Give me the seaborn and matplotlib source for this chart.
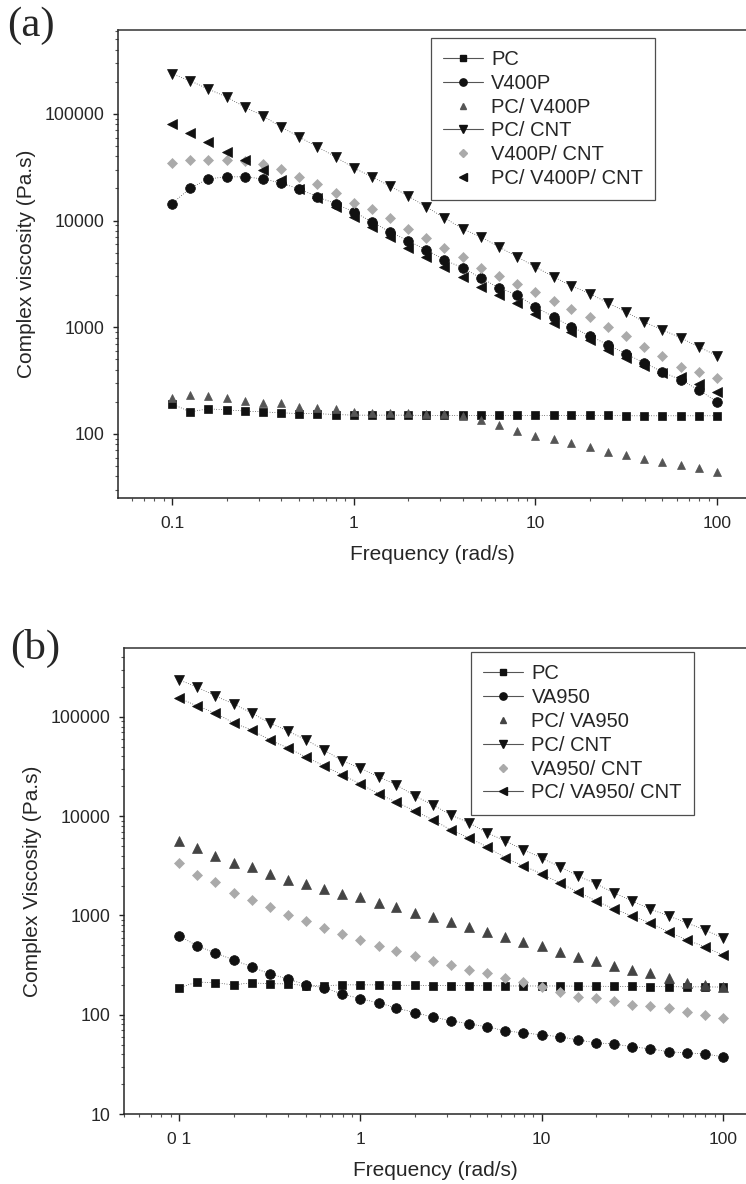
import numpy as np
import pandas as pd
import seaborn as sns
import matplotlib.pyplot as plt
from matplotlib.lines import Line2D
from matplotlib.ticker import LogLocator, NullFormatter

# frequency sweep, 10 points per decade, 0.1 - 100 rad/s
freq = [0.1, 0.126, 0.158, 0.2, 0.251, 0.316, 0.398, 0.501, 0.631, 0.794,
        1.0, 1.26, 1.58, 2.0, 2.51, 3.16, 3.98, 5.01, 6.31, 7.94,
        10.0, 12.6, 15.8, 20.0, 25.1, 31.6, 39.8, 50.1, 63.1, 79.4, 100.0]

# ---- panel (a) ----
pc_a = [191, 161, 172, 168, 164, 161, 158, 155, 155, 152, 150, 150, 150, 150, 149, 149,
        149, 149, 149, 149, 149, 149, 149, 149, 149, 148, 148, 148, 148, 148, 148]
v400p = [14400, 20200, 24600, 25700, 25700, 24600, 22500, 19800, 16700, 14400, 12100,
         9730, 7830, 6450, 5310, 4280, 3600, 2900, 2340, 2010, 1550, 1250, 1010, 830,
         684, 563, 464, 382, 321, 259, 200]
pc_v400p = [218, 232, 228, 218, 204, 196, 196, 179, 176, 172, 161, 158, 158, 158, 154, 154,
            148, 136, 122, 107, 96, 90, 83, 76, 68, 64, 58, 54, 51, 48, 44]
pc_cnt_a = [237000, 204000, 171000, 144000, 116000, 95800, 75500, 60800, 49100, 39500,
            31200, 25700, 21100, 17000, 13400, 10600, 8360, 7030, 5670, 4570, 3680, 2970,
            2440, 2060, 1690, 1390, 1120, 946, 796, 655, 540]
v400p_cnt = [34700, 37100, 37100, 37100, 36300, 34000, 30500, 25700, 22100, 18200, 14700,
             12900, 10600, 8360, 6880, 5540, 4570, 3600, 3030, 2550, 2150, 1770, 1490, 1250,
             1010, 830, 655, 540, 425, 382, 336]
pc_v400p_cnt = [80600, 66400, 54700, 44000, 37100, 29800, 24000, 19800, 16300, 13400, 10800,
                8730, 7030, 5540, 4570, 3680, 2970, 2390, 2010, 1690, 1340, 1100, 906, 762,
                614, 516, 435, 374, 343, 295, 248]

# ---- panel (b) ----
pc_b = [187, 214, 210, 200, 210, 205, 205, 196, 196, 200, 200, 200, 198, 198, 197, 197,
        196, 196, 195, 195, 195, 195, 194, 194, 193, 193, 192, 192, 191, 191, 190]
va950 = [624, 494, 420, 357, 304, 258, 230, 200, 187, 162, 145, 132, 117, 105, 95, 87,
         81, 75.5, 68.8, 65.7, 62.8, 60.0, 55.9, 52.1, 50.9, 47.5, 45.4, 42.4, 41.3, 40.4, 37.7]
pc_va950 = [5640, 4800, 3980, 3390, 3090, 2620, 2280, 2080, 1850, 1650, 1540, 1340, 1220,
            1060, 968, 862, 768, 684, 610, 542, 494, 430, 383, 349, 311, 283, 264, 235,
            210, 200, 191]
pc_cnt_b = [236000, 200000, 163000, 135000, 110000, 87000, 72300, 58700, 46500, 36100,
            30600, 24900, 20700, 16000, 13000, 10300, 8570, 6800, 5640, 4580, 3800, 3090,
            2510, 2080, 1690, 1400, 1160, 990, 842, 716, 594]
va950_cnt = [3390, 2570, 2180, 1690, 1440, 1220, 1010, 883, 750, 653, 568, 494, 440, 392,
             349, 318, 283, 264, 235, 214, 191, 170, 151, 148, 138, 126, 123, 117, 107, 99.8, 93]
pc_va950_cnt = [155000, 129000, 110000, 87000, 74000, 58700, 48700, 39600, 32100, 26100,
                21200, 16800, 13900, 11300, 9190, 7280, 6040, 4910, 3800, 3160, 2630, 2130,
                1730, 1400, 1160, 990, 842, 684, 568, 483, 401]

sns.set_theme(style="ticks")
plt.rcParams['font.family'] = ['Liberation Sans', 'DejaVu Sans']
plt.rcParams['axes.linewidth'] = 1.1

fig = plt.figure(figsize=(7.46, 11.84), dpi=100)
ax_a = fig.add_axes([0.1582, 0.5794, 0.8418, 0.3953])
ax_b = fig.add_axes([0.1662, 0.0591, 0.8338, 0.3936])

# (label, values, marker, color, size, has_line)
series_a = [("PC", pc_a, "s", "#111111", 6, True),
            ("V400P", v400p, "o", "#111111", 7, True),
            ("PC/ V400P", pc_v400p, "^", "#555555", 6, False),
            ("PC/ CNT", pc_cnt_a, "v", "#111111", 7.5, True),
            ("V400P/ CNT", v400p_cnt, "D", "#aaaaaa", 5, False),
            ("PC/ V400P/ CNT", pc_v400p_cnt, "<", "#111111", 7, False)]
series_b = [("PC", pc_b, "s", "#111111", 6, True),
            ("VA950", va950, "o", "#111111", 7, True),
            ("PC/ VA950", pc_va950, "^", "#444444", 6.5, False),
            ("PC/ CNT", pc_cnt_b, "v", "#111111", 7.5, True),
            ("VA950/ CNT", va950_cnt, "D", "#aaaaaa", 5, False),
            ("PC/ VA950/ CNT", pc_va950_cnt, "<", "#111111", 7, True)]


def draw_panel(ax, series, xlim, ylim, yticks, xticklabels, ylabel, tag, tag_xy, leg_anchor):
    handles = []
    for name, vals, mk, col, ms, has_line in series:
        df = pd.DataFrame({"freq": freq, "eta": vals})
        sns.lineplot(data=df, x="freq", y="eta", ax=ax, marker=mk, color=col,
                     markersize=ms, markeredgecolor=col, markeredgewidth=0.5,
                     linestyle=(0, (1, 2.5)) if has_line else "none",
                     linewidth=0.5, alpha=1.0)
        handles.append(Line2D([], [], color="#555555", lw=0.8,
                              ls="-" if has_line else "none", marker=mk,
                              markersize=ms * 0.75, markerfacecolor=col,
                              markeredgecolor=col, label=name))
    ax.set_xscale("log")
    ax.set_yscale("log")
    ax.set_xlim(*xlim)
    ax.set_ylim(*ylim)
    ax.set_xticks([0.1, 1, 10, 100])
    ax.set_xticklabels(xticklabels)
    ax.set_yticks(yticks)
    ax.set_yticklabels([str(t) for t in yticks])
    ax.xaxis.set_minor_locator(LogLocator(base=10, subs=np.arange(2, 10), numticks=20))
    ax.yaxis.set_minor_locator(LogLocator(base=10, subs=np.arange(2, 10), numticks=20))
    ax.xaxis.set_minor_formatter(NullFormatter())
    ax.yaxis.set_minor_formatter(NullFormatter())
    ax.tick_params(axis="x", which="major", length=5, width=1, labelsize=12.5, pad=8,
                   color="#222222")
    ax.tick_params(axis="y", which="major", length=3.6, width=1, labelsize=12.8, pad=6,
                   color="#222222")
    ax.tick_params(which="minor", length=2, width=0.8, color="#555555")
    ax.spines["right"].set_visible(False)
    ax.spines["top"].set_color("#333333")
    ax.set_xlabel("Frequency (rad/s)", fontsize=15, labelpad=10)
    ax.set_ylabel(ylabel, fontsize=15, labelpad=6)
    leg = ax.legend(handles=handles, loc="upper left", bbox_to_anchor=leg_anchor,
                    frameon=True, fancybox=False, edgecolor="#222222", fontsize=14.5,
                    handlelength=2.0, handletextpad=0.4, labelspacing=0.24,
                    borderpad=0.6, borderaxespad=0)
    leg.get_frame().set_linewidth(0.9)
    ax.text(tag_xy[0], tag_xy[1], tag, transform=ax.transAxes, fontsize=31,
            family=["Liberation Serif", "DejaVu Serif"], ha="left", va="center")


draw_panel(ax_a, series_a, (0.0504, 144.5), (25.1, 6.12e5), [100, 1000, 10000, 100000],
           ["0.1", "1", "10", "100"], "Complex viscosity (Pa.s)", "(a)", (-0.177, 1.008),
           (0.498, 0.983))
draw_panel(ax_b, series_b, (0.0497, 134), (10, 4.95e5), [10, 100, 1000, 10000, 100000],
           ["0 1", "1", "10", "100"], "Complex Viscosity (Pa.s)", "(b)", (-0.183, 1.0),
           (0.558, 0.991))

fig.savefig("out.png", dpi=100)
